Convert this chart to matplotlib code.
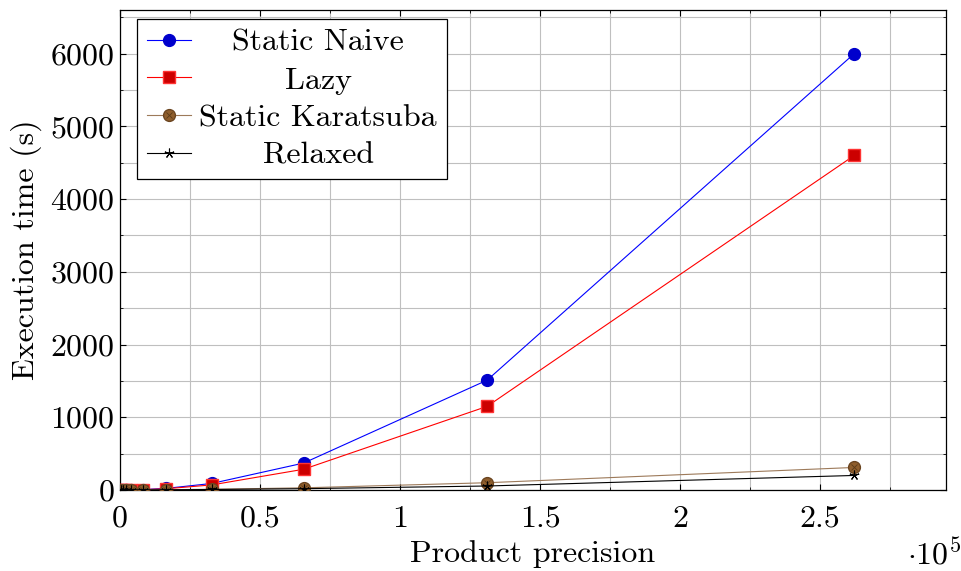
import matplotlib
matplotlib.use("Agg")
import matplotlib.pyplot as plt
from matplotlib.ticker import MultipleLocator, FuncFormatter

plt.rcParams['font.family'] = 'serif'
plt.rcParams['font.serif'] = ['cmr10', 'DejaVu Serif']
plt.rcParams['mathtext.fontset'] = 'cm'
plt.rcParams['axes.formatter.use_mathtext'] = True
plt.rcParams['axes.unicode_minus'] = False

# data
precision = [512, 1024, 2048, 4096, 8192, 16384, 32768, 65536, 131072, 262144]
static_naive = [0.3, 0.6, 1.2, 3, 6, 22, 90, 370, 1510, 6000]
lazy = [0.2, 0.5, 1, 2.5, 5, 17, 70, 285, 1150, 4600]
static_karatsuba = [0.1, 0.2, 0.4, 1, 2, 4, 10, 30, 100, 310]
relaxed = [0.1, 0.2, 0.3, 0.7, 1.5, 3, 7, 18, 55, 200]

FS = 23

fig = plt.figure(figsize=(9.61, 5.71), dpi=100)
ax = fig.add_axes([120/961, 1 - 490/571, (946-120)/961, (490-10)/571])

l1, = ax.plot(precision, static_naive, color='#0000ff', lw=0.8, marker='o', ms=8.5,
              mfc='#0000cc', mec='#0000cc', zorder=5)
l2, = ax.plot(precision, lazy, color='#ff0000', lw=0.8, marker='s', ms=8,
              mfc='#cc0000', mec='#ff3333', zorder=5)
l3, = ax.plot(precision, static_karatsuba, color='#9d7a5a', lw=0.8, marker='o', ms=8.5,
              mfc='#8f5e2c', mec='#6b4520', zorder=5)
l3x, = ax.plot(precision, static_karatsuba, ls='none', marker='x', ms=5,
               mec='#5a3a18', mew=0.6, zorder=5.5)
l4, = ax.plot(precision, relaxed, color='black', lw=0.8, marker=(5, 2, 0), ms=7,
              mew=0.8, zorder=6)

ax.set_xlim(0, 294912)
ax.set_ylim(0, 6600)
ax.xaxis.set_major_locator(MultipleLocator(50000))
ax.xaxis.set_minor_locator(MultipleLocator(25000))
ax.yaxis.set_major_locator(MultipleLocator(1000))
ax.yaxis.set_minor_locator(MultipleLocator(500))
ax.xaxis.set_major_formatter(FuncFormatter(lambda v, p: f'{v/1e5:g}'))
ax.grid(True, which='both', color='#bfbfbf', lw=0.8)
ax.set_axisbelow(True)
ax.tick_params(which='both', direction='in', top=True, right=True, labelsize=FS)
ax.tick_params(which='major', length=4, pad=4)
ax.tick_params(axis='x', which='major', pad=11)
ax.tick_params(which='minor', length=2.5)
for s in ax.spines.values():
    s.set_linewidth(0.9)

ax.set_xlabel('Product precision', fontsize=FS, labelpad=5)
ax.set_ylabel('Execution time (s)', fontsize=FS, labelpad=6)
fig.text(907/961, 1 - 555/571, r'$\cdot 10^5$', fontsize=FS, ha='left', va='center')

leg = ax.legend([l1, l2, (l3, l3x), l4],
                ['Static Naive', 'Lazy', 'Static Karatsuba', 'Relaxed'],
                loc='upper left', bbox_to_anchor=((137-120)/826, (490-19)/480),
                borderaxespad=0, fontsize=FS, fancybox=False, edgecolor='black',
                framealpha=1, handlelength=1.4,
                labelspacing=0.29, borderpad=0.3, handletextpad=0.25)
leg.get_frame().set_linewidth(0.9)

# centre legend texts like pgfplots
r = fig.canvas.get_renderer()
texts = leg.get_texts()
widths = [t.get_window_extent(r).width for t in texts]
wmax = max(widths)
for t, w in zip(texts, widths):
    t.set_x((wmax - w) / 2)

fig.savefig('out.png', dpi=100)
